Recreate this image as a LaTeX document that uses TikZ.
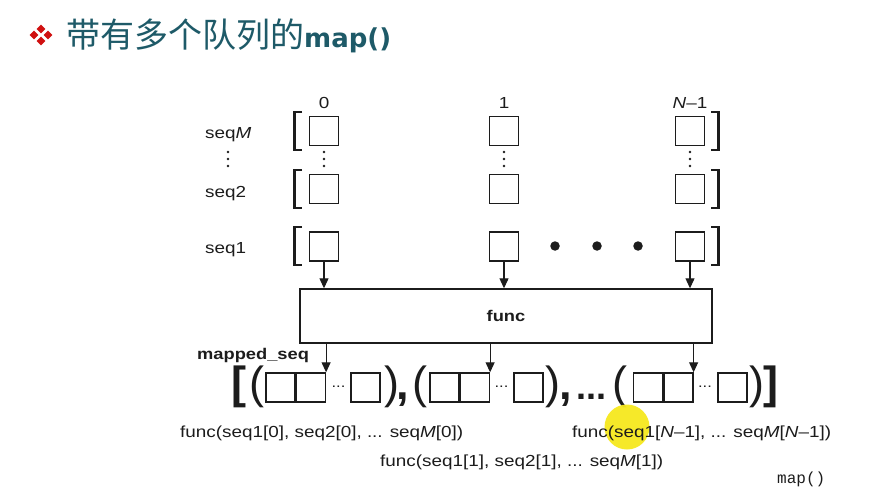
\documentclass[tikz,border=0pt]{standalone}
\usepackage{fontspec}
\setmainfont{Liberation Sans}
\newfontfamily\hv[FakeStretch=1.18]{Liberation Sans}
\newfontfamily\plain{Liberation Sans}
\newfontfamily\cjk{Noto Sans CJK SC}
\newfontfamily\vera{DejaVu Sans}
\newfontfamily\mono{Liberation Mono}
\usetikzlibrary{arrows.meta}
\definecolor{ink}{HTML}{1C1C1C}
\definecolor{titlecol}{HTML}{1E5A68}
\definecolor{bulletred}{HTML}{D01010}
\definecolor{hilite}{HTML}{F6E81E}
\begin{document}
\begin{tikzpicture}[x=1pt,y=-1pt,
  cell/.style={draw=ink, line width=1.4pt, minimum width=29pt, minimum height=29pt, inner sep=0pt},
  lbl/.style={text=ink, inner sep=0pt, font=\hv\fontsize{16}{19}\selectfont},
  blbl/.style={text=ink, inner sep=0pt, font=\hv\bfseries\fontsize{15.5}{18}\selectfont},
  big/.style={text=ink, inner sep=0pt, font=\plain\fontsize{45}{50}\selectfont},
  bigb/.style={text=ink, inner sep=0pt, font=\plain\bfseries\fontsize{45}{50}\selectfont},
  sdots/.style={text=ink, inner sep=0pt, font=\hv\fontsize{14}{16}\selectfont},
  arr/.style={draw=ink, line width=1.1pt, -{Triangle[width=9pt,length=10pt]}},
  brk/.style={draw=ink, line width=2.8pt},
  dot/.style={fill=ink, draw=none, circle, inner sep=0pt, minimum size=2.6pt},
  bigdot/.style={fill=ink, draw=none, circle, inner sep=0pt, minimum size=9.5pt},
]
\useasboundingbox[fill=white] (0,0) rectangle (874,503);

% title
\foreach \dx/\dy in {41/29, 34/35, 48/35, 41/41}
  \fill[bulletred] (\dx,\dy-4.3) -- (\dx+4.3,\dy) -- (\dx,\dy+4.3) -- (\dx-4.3,\dy) -- cycle;
\node[anchor=base west, inner sep=0pt, text=titlecol] (title) at (66,48)
  {\cjk\fontsize{34}{38}\selectfont 带有多个队列的{\vera\bfseries\fontsize{26}{30}\selectfont map()}};

% column labels
\node[lbl, anchor=base] (c0) at (324,108) {0};
\node[lbl, anchor=base] (c1) at (504,108) {1};
\node[lbl, anchor=base] (cN) at (690,108) {\itshape N\upshape –1};

% row labels
\node[lbl, anchor=base west] (lM) at (205,138) {seq\itshape M};
\node[lbl, anchor=base west] (l2) at (205,197) {seq2};
\node[lbl, anchor=base west] (l1) at (205,253) {seq1};

% cells
\foreach \c/\x in {0/324, 1/504, N/690}{
  \node[cell] (sM\c) at (\x,131) {};
  \node[cell] (s2\c) at (\x,189) {};
  \node[cell] (s1\c) at (\x,246.5) {};
}

% vertical dots
\foreach \x in {228, 324, 504, 690}
  \foreach \y in {152, 159, 166}
    \node[dot] at (\x,\y) {};

% brackets
\foreach \y in {112, 170, 227}{
  \draw[brk] (302,\y) -- (294.5,\y) -- (294.5,\y+38) -- (302,\y+38);
  \draw[brk] (711,\y) -- (718.5,\y) -- (718.5,\y+38) -- (711,\y+38);
}

% big dots
\foreach \x in {555, 597, 638}
  \node[bigdot] at (\x,246) {};

% func box
\node[draw=ink, line width=1.4pt, minimum width=412pt, minimum height=54pt, inner sep=0pt,
      font=\hv\bfseries\fontsize{15.5}{18}\selectfont, text=ink] (fn) at (506,316) {func};

\foreach \c in {0,1,N}
  \draw[arr] (s1\c.south) -- (s1\c.south |- fn.north);

% mapped_seq
\node[blbl, anchor=base west] (ms) at (197,359) {mapped\_seq};

% bottom cells
\foreach \g/\xa/\xc in {a/280.5/365.5, b/444.5/528.5, c/648/732.5}{
  \node[cell] (\g1) at (\xa,387.5) {};
  \node[cell, anchor=west] (\g2) at (\g1.east) {};
  \node[cell] (\g3) at (\xc,387.5) {};
}
\node[sdots] (da) at (338.5,387) {...};
\node[sdots] (db) at (501.5,387) {...};
\node[sdots] (dc) at (705,387) {...};

\draw[arr] (fn.south -| a2.north east) -- (a2.north east);
\draw[arr] (fn.south -| b2.north east) -- (b2.north east);
\draw[arr] (fn.south -| c2.north east) -- (c2.north east);

% big punctuation
\node[bigb] (lb) at (238.5,387) {[};
\node[big] (p1) at (257,387) {(};
\node[big] (q1) at (392,387) {)};
\node[bigb, anchor=base] (k1) at (403,399) {,};
\node[big] (p2) at (420,387) {(};
\node[big] (q2) at (553,387) {)};
\node[bigb, anchor=base] (k2) at (566,399) {,};
\node[bigb, anchor=base, font=\plain\bfseries\fontsize{36}{40}\selectfont] (el) at (591,399) {...};
\node[big] (p3) at (620,387) {(};
\node[big] (q3) at (757,387) {)};
\node[bigb] (rb) at (771,387) {]};

% highlight
\node[circle, fill=hilite, fill opacity=0.95, minimum size=45pt, inner sep=0pt] (cursor) at (627,427) {};

% bottom labels
\node[lbl, anchor=base west] (f0) at (180,437) {func(seq1[0], seq2[0], ... seq{\itshape M}[0])};
\node[lbl, anchor=base west] (f1) at (380,466) {func(seq1[1], seq2[1], ... seq{\itshape M}[1])};
\node[lbl, anchor=base west] (fN) at (572,437) {func(seq1[{\itshape N}–1], ... seq{\itshape M}[{\itshape N}–1])};
\node[anchor=base west, inner sep=0pt, text=ink, font=\mono\fontsize{16}{18}\selectfont] (mp) at (777,483) {map()};
\end{tikzpicture}
\end{document}
